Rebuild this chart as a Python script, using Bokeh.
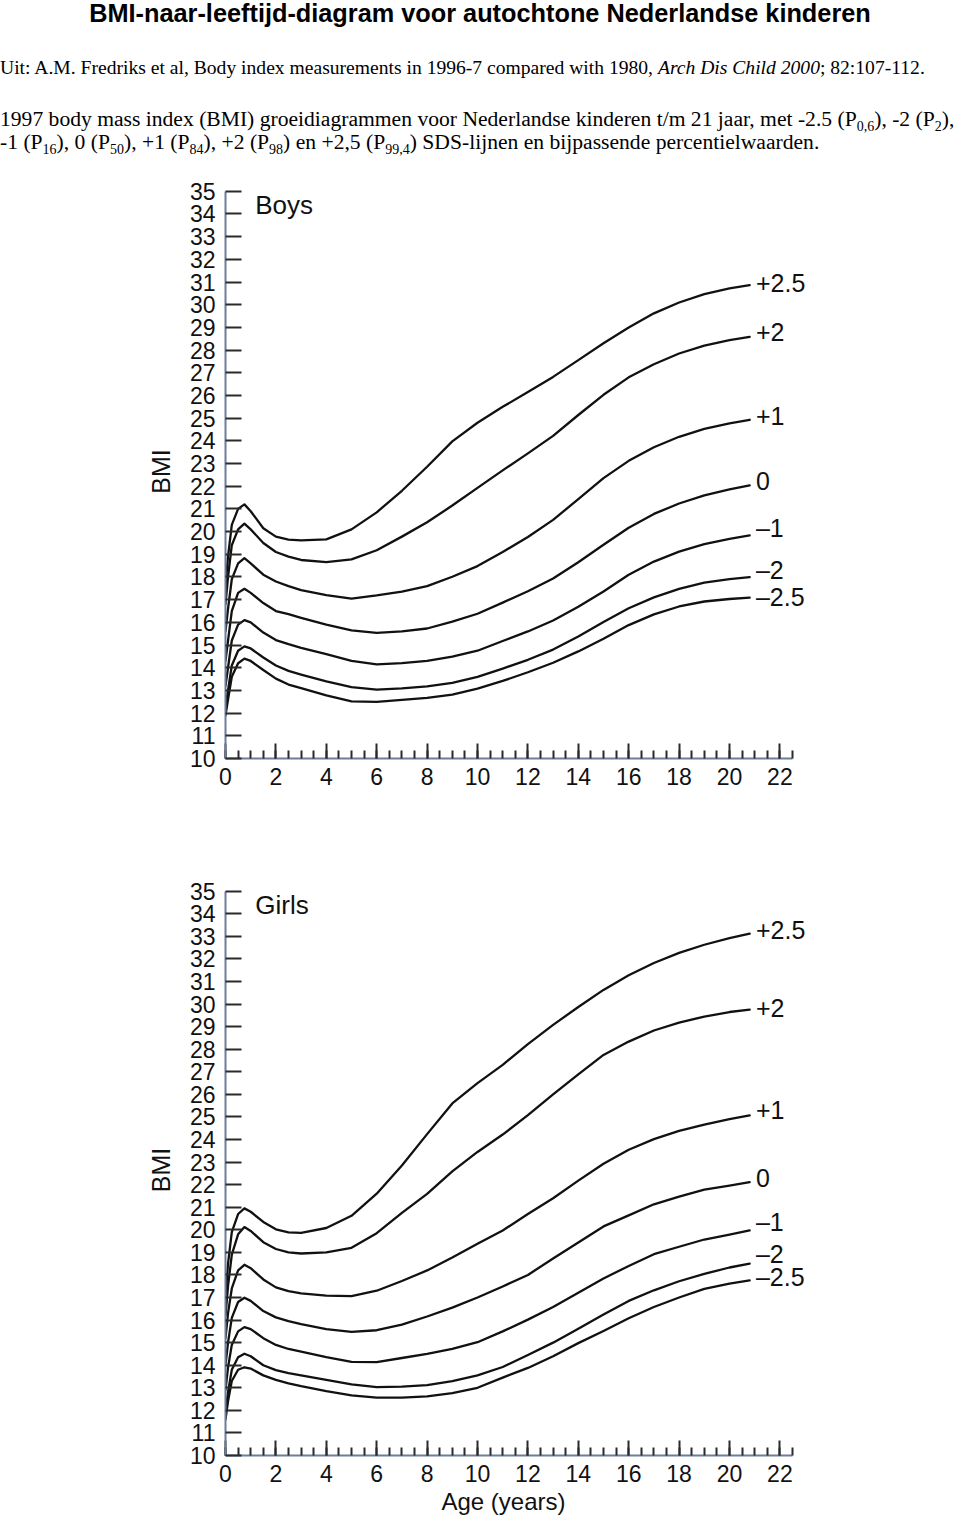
from bokeh.plotting import figure
from bokeh.models import (Range1d, LinearAxis, FixedTicker, SingleIntervalTicker,
                          Label, Div, ColumnDataSource, Grid, Title)
from bokeh.layouts import column
from bokeh.embed import file_html
from bokeh.resources import INLINE
from bokeh.core.properties import value

# ---------------- data ----------------
ages = [0, 0.1, 0.25, 0.5, 0.75, 1, 1.5, 2, 2.5, 3, 4, 5, 6, 7, 8, 9, 10,
        11, 12, 13, 14, 15, 16, 17, 18, 19, 20, 20.8]

sds_labels = ["+2.5", "+2", "+1", "0", "\u20131", "\u20132", "\u20132.5"]

boys_p2_5 = [17.6, 18.9, 20.3, 21.0, 21.2, 20.9, 20.15, 19.78, 19.65, 19.61, 19.66, 20.1,
             20.85, 21.8, 22.86, 23.98, 24.8, 25.5, 26.15, 26.82, 27.56, 28.3, 29.0,
             29.62, 30.1, 30.47, 30.72, 30.86]
boys_p2 = [16.8, 18.0, 19.4, 20.1, 20.35, 20.1, 19.5, 19.1, 18.9, 18.75, 18.66, 18.78,
           19.18, 19.78, 20.41, 21.15, 21.93, 22.7, 23.45, 24.22, 25.14, 26.03, 26.8,
           27.38, 27.85, 28.2, 28.44, 28.58]
boys_p1 = [15.6, 16.6, 17.9, 18.6, 18.83, 18.6, 18.1, 17.8, 17.6, 17.42, 17.2, 17.05,
           17.19, 17.36, 17.6, 18.01, 18.48, 19.1, 19.76, 20.52, 21.43, 22.36, 23.12,
           23.72, 24.18, 24.53, 24.77, 24.93]
boys_0 = [14.3, 15.2, 16.5, 17.3, 17.48, 17.3, 16.85, 16.5, 16.36, 16.2, 15.9, 15.65,
          15.54, 15.6, 15.73, 16.03, 16.38, 16.87, 17.37, 17.93, 18.65, 19.42, 20.17,
          20.78, 21.24, 21.6, 21.86, 22.04]
boys_m1 = [13.2, 14.0, 15.2, 15.9, 16.1, 16.0, 15.55, 15.22, 15.04, 14.88, 14.6, 14.3,
           14.15, 14.2, 14.3, 14.49, 14.75, 15.18, 15.6, 16.08, 16.69, 17.36, 18.1,
           18.68, 19.12, 19.45, 19.68, 19.83]
boys_m2 = [12.3, 13.0, 14.1, 14.75, 14.94, 14.85, 14.45, 14.1, 13.86, 13.7, 13.4, 13.15,
           13.04, 13.09, 13.18, 13.33, 13.6, 13.96, 14.35, 14.8, 15.38, 16.02, 16.62,
           17.1, 17.48, 17.75, 17.91, 17.99]
boys_m2_5 = [11.9, 12.6, 13.6, 14.2, 14.4, 14.3, 13.9, 13.52, 13.26, 13.1, 12.78, 12.52,
             12.5, 12.58, 12.67, 12.82, 13.08, 13.42, 13.8, 14.22, 14.72, 15.28, 15.88,
             16.35, 16.7, 16.92, 17.03, 17.09]

girls_p2_5 = [17.0, 18.5, 19.9, 20.7, 20.95, 20.8, 20.35, 20.02, 19.89, 19.86, 20.08, 20.62,
              21.6, 22.85, 24.24, 25.6, 26.5, 27.31, 28.23, 29.08, 29.87, 30.63, 31.28,
              31.82, 32.27, 32.63, 32.92, 33.12]
girls_p2 = [16.2, 17.5, 18.9, 19.8, 20.12, 19.95, 19.45, 19.15, 19.0, 18.95, 19.0, 19.2,
            19.85, 20.75, 21.59, 22.59, 23.45, 24.22, 25.08, 26.0, 26.89, 27.75, 28.34,
            28.83, 29.18, 29.45, 29.65, 29.76]
girls_p1 = [15.2, 16.3, 17.4, 18.2, 18.45, 18.3, 17.8, 17.45, 17.28, 17.18, 17.08, 17.06,
            17.3, 17.73, 18.2, 18.77, 19.38, 19.97, 20.7, 21.4, 22.18, 22.93, 23.55,
            24.02, 24.38, 24.66, 24.9, 25.07]
girls_0 = [14.0, 15.0, 16.1, 16.8, 16.99, 16.85, 16.4, 16.12, 15.95, 15.82, 15.6, 15.48,
           15.55, 15.8, 16.16, 16.55, 17.0, 17.49, 18.0, 18.73, 19.44, 20.15, 20.64,
           21.13, 21.47, 21.78, 21.96, 22.11]
girls_m1 = [12.9, 13.9, 14.9, 15.5, 15.69, 15.6, 15.2, 14.9, 14.72, 14.6, 14.36, 14.15,
            14.14, 14.32, 14.5, 14.72, 15.02, 15.5, 16.02, 16.58, 17.21, 17.84, 18.4,
            18.92, 19.25, 19.57, 19.79, 19.97]
girls_m2 = [12.0, 12.8, 13.8, 14.35, 14.51, 14.4, 14.0, 13.78, 13.65, 13.55, 13.35, 13.15,
            13.03, 13.05, 13.12, 13.3, 13.55, 13.92, 14.45, 15.0, 15.62, 16.25, 16.85,
            17.32, 17.72, 18.05, 18.33, 18.5]
girls_m2_5 = [11.6, 12.4, 13.3, 13.8, 13.91, 13.85, 13.55, 13.35, 13.2, 13.07, 12.85, 12.66,
              12.56, 12.56, 12.62, 12.76, 13.0, 13.45, 13.88, 14.4, 14.98, 15.52, 16.08,
              16.58, 17.0, 17.38, 17.62, 17.76]

boys_label_bmi = [30.94, 28.78, 25.08, 22.21, 20.14, 18.29, 17.14]
girls_label_bmi = [33.27, 29.81, 25.29, 22.28, 20.33, 18.95, 17.93]

bmi_ticks = list(range(10, 36))

# ---------------- styling ----------------
SANS = "Liberation Sans"
AXIS_COLOR = "#6f7c9a"
INK = "#111111"


def make_chart(name, curves, label_bmi, height, border_top, age_label=False):
    p = figure(width=960, height=height,
               x_range=Range1d(0, 25), y_range=Range1d(10, 35.3),
               output_backend="svg", toolbar_location=None,
               x_axis_location=None, y_axis_location=None,
               min_border_left=225, min_border_right=105,
               min_border_top=border_top, min_border_bottom=72)
    p.outline_line_color = None
    p.background_fill_color = "white"
    p.border_fill_color = "white"
    for r in list(p.center):
        if isinstance(r, Grid):
            r.visible = False

    yax = LinearAxis(ticker=FixedTicker(ticks=bmi_ticks), bounds=(10, 35))
    yax.axis_line_color = AXIS_COLOR
    yax.axis_line_width = 2
    yax.major_tick_in = 16
    yax.major_tick_out = 0
    yax.major_tick_line_color = "#2a2a2a"
    yax.major_tick_line_width = 2
    yax.minor_tick_line_color = None
    yax.major_label_standoff = 10
    yax.major_label_text_font = SANS
    yax.major_label_text_font_size = "23px"
    yax.major_label_text_color = INK
    yax.axis_label = "BMI"
    yax.axis_label_standoff = 12
    yax.axis_label_text_font = SANS
    yax.axis_label_text_font_size = "25px"
    yax.axis_label_text_font_style = "normal"
    yax.axis_label_text_color = INK
    p.add_layout(yax, "left")

    xax = LinearAxis(ticker=SingleIntervalTicker(interval=2, num_minor_ticks=4),
                     bounds=(0, 22.5))
    xax.axis_line_color = AXIS_COLOR
    xax.axis_line_width = 2
    xax.major_tick_in = 15
    xax.major_tick_out = 0
    xax.minor_tick_in = 8
    xax.minor_tick_out = 0
    xax.major_tick_line_color = "#2a2a2a"
    xax.minor_tick_line_color = "#2a2a2a"
    xax.major_tick_line_width = 2
    xax.minor_tick_line_width = 2
    xax.major_label_standoff = 9
    xax.major_label_text_font = SANS
    xax.major_label_text_font_size = "23px"
    xax.major_label_text_color = INK
    p.add_layout(xax, "below")

    for ys in curves:
        src = ColumnDataSource(dict(age=ages, bmi=ys))
        p.line("age", "bmi", source=src, line_color=INK, line_width=2.3,
               line_join="round", line_cap="round")

    lab_src = ColumnDataSource(dict(x=[21.05] * len(sds_labels), y=label_bmi,
                                    t=sds_labels))
    p.text("x", "y", text="t", source=lab_src, text_font=value(SANS),
           text_font_size="25px", text_baseline="middle", text_align="left",
           text_color=INK)

    p.add_layout(Label(x=1.18, y=34.38, text=name, text_font=SANS,
                       text_font_size="26px", text_baseline="middle",
                       text_align="left", text_color=INK))
    if age_label:
        t = Title(text="Age (years)", align="left", offset=216,
                  text_font=SANS, text_font_size="24px",
                  text_font_style="normal", text_color=INK, standoff=2)
        p.add_layout(t, "below")
    return p


boys = make_chart("Boys",
                  [boys_p2_5, boys_p2, boys_p1, boys_0, boys_m1, boys_m2, boys_m2_5],
                  boys_label_bmi, height=662, border_top=16)
girls = make_chart("Girls",
                   [girls_p2_5, girls_p2, girls_p1, girls_0, girls_m1, girls_m2, girls_m2_5],
                   girls_label_bmi, height=697, border_top=54, age_label=True)

serif = ("font-family:'Liberation Serif','Times New Roman',serif;line-height:1;"
         "white-space:nowrap;position:absolute;left:0;")
sub = '<sub style="font-size:14px;">'
html = (
    '<div style="position:relative;width:960px;height:168px;margin:0;padding:0;color:#000;">'
    '<div style="position:absolute;top:1px;left:0;width:960px;text-align:center;'
    "font-family:'Liberation Sans',Arial,sans-serif;font-weight:bold;font-size:25.3px;line-height:1;white-space:nowrap;\">"
    'BMI-naar-leeftijd-diagram voor autochtone Nederlandse kinderen</div>'
    f'<div style="{serif}font-size:19.6px;top:58px;">Uit: A.M. Fredriks et al, Body index measurements in 1996-7 '
    'compared with 1980, <i>Arch Dis Child 2000</i>; 82:107-112.</div>'
    f'<div style="{serif}font-size:21.6px;top:109px;">1997 body mass index (BMI) groeidiagrammen voor Nederlandse '
    f'kinderen t/m 21 jaar, met -2.5 (P{sub}0,6</sub>), -2 (P{sub}2</sub>),</div>'
    f'<div style="{serif}font-size:21.6px;top:132px;">-1 (P{sub}16</sub>), 0 (P{sub}50</sub>), '
    f'+1 (P{sub}84</sub>), +2 (P{sub}98</sub>) en +2,5 '
    f'(P{sub}99,4</sub>) SDS-lijnen en bijpassende percentielwaarden.</div>'
    '</div>'
)
header = Div(text=html, width=960, height=168, margin=0)

layout = column(header, boys, girls, spacing=0, margin=0)

with open("out.html", "w") as f:
    f.write(file_html(layout, INLINE, title="BMI-naar-leeftijd-diagram"))
